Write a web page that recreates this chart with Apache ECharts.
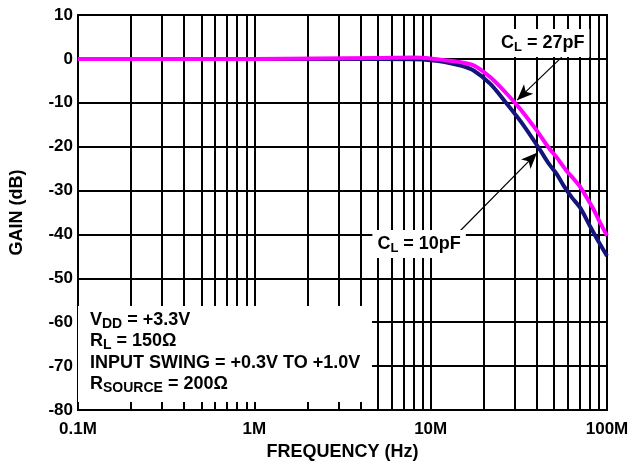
<!DOCTYPE html>
<html>
<head>
<meta charset="utf-8">
<script src="https://cdn.jsdelivr.net/npm/echarts@6/dist/echarts.min.js"></script>
<style>
  html, body { margin: 0; padding: 0; background: #fff; }
  #chart { width: 635px; height: 466px; }
</style>
</head>
<body>
<div id="chart"></div>
<script>
// frequency in MHz, gain in dB
var freq27 = [0.1, 1, 5, 8, 10, 12, 15, 17.6, 21.8, 27.1, 32.2, 40.1, 46.6, 52, 59.2, 64.6, 70, 76.7, 83.7, 90, 100];
var gain27 = [0, 0, 0.2, 0.3, 0.1, -0.3, -0.8, -1.5, -4.2, -8, -11.4, -16.4, -20.2, -22.5, -25.6, -27.3, -29, -31.6, -34.2, -36.8, -40.3];
var freq10 = [0.1, 1, 5, 8, 10, 12, 15, 17.6, 21.8, 27.1, 33.7, 41.8, 47, 52, 57, 63, 70.4, 80.1, 90, 100];
var gain10 = [0, 0, 0, -0.1, -0.3, -0.7, -1.6, -2.7, -5.7, -10.3, -15.2, -20.8, -24, -26.3, -29, -31.5, -33.9, -38.1, -41.8, -44.9];

var tickNames = {0.1: '0.1M', 1: '1M', 10: '10M', 100: '100M'};
// minor log grid lines 2..9 per decade
var minorGrid = [0.2, 0.3, 0.4, 0.5, 0.6, 0.7, 0.8, 0.9,
                 2, 3, 4, 5, 6, 7, 8, 9,
                 20, 30, 40, 50, 60, 70, 80, 90];

// annotations: [label, labelFreq, labelGain, arrowFromF, arrowFromG, arrowToF, arrowToG]
var note27 = ['C{sub|L} = 27pF', 43.2, 3.6, 55.4, 0.4, 30.9, -9.4];
var note10 = ['C{sub|L} = 10pF', 8.6, -42.2, 13.8, -40.3, 40.1, -21.4];

var conditions = [
    'V{sub|DD} = +3.3V',
    'R{sub|L} = 150\u03A9',
    'INPUT SWING = +0.3V TO +1.0V',
    'R{sub|SOURCE} = 200\u03A9'
];

var FONT = '"Liberation Sans", Arial, sans-serif';

function pairs(xs, ys) {
    var out = [];
    for (var i = 0; i < xs.length; i++) {
        out.push([xs[i], ys[i]]);
    }
    return out;
}

function noteSeries(n) {
    return {
        type: 'line',
        data: [],
        silent: true,
        markLine: {
            silent: true,
            symbol: ['none', 'arrow'],
            symbolSize: [10, 16],
            label: { show: false },
            lineStyle: { color: '#000', width: 1.2, type: 'solid' },
            data: [[{ coord: [n[3], n[4]] }, { coord: [n[5], n[6]] }]]
        },
        markPoint: {
            silent: true,
            symbol: 'rect',
            symbolSize: 1,
            itemStyle: { color: 'transparent' },
            label: {
                show: true,
                position: 'inside',
                formatter: n[0],
                backgroundColor: '#fff',
                padding: [3, 5, 3, 5],
                color: '#000',
                fontSize: 18,
                fontWeight: 'bold',
                fontFamily: FONT,
                rich: {
                    sub: { fontSize: 13, fontWeight: 'bold', fontFamily: FONT, color: '#000', padding: [9, 0, 0, 0] }
                }
            },
            data: [{ coord: [n[1], n[2]] }]
        },
        z: 20
    };
}

var chart = echarts.init(document.getElementById('chart'));
var option = {
    backgroundColor: '#fff',
    animation: false,
    grid: {
        left: 76, right: 28, top: 15, bottom: 56,
        show: true, borderColor: '#000', borderWidth: 2
    },
    xAxis: {
        type: 'log',
        logBase: 10,
        min: 0.1,
        max: 100,
        name: 'FREQUENCY (Hz)',
        nameLocation: 'middle',
        nameGap: 33,
        nameTextStyle: { fontSize: 18, fontWeight: 'bold', fontFamily: FONT, color: '#000' },
        axisLine: { lineStyle: { color: '#000', width: 2 } },
        axisTick: { show: false },
        axisLabel: {
            fontSize: 17, fontWeight: 'bold', fontFamily: FONT, color: '#000', margin: 11,
            formatter: function (v) { return tickNames[v] || ''; }
        },
        splitLine: { show: true, lineStyle: { color: '#000', width: 2 } }
    },
    yAxis: {
        type: 'value',
        min: -80,
        max: 10,
        interval: 10,
        name: 'GAIN (dB)',
        nameLocation: 'middle',
        nameGap: 52,
        nameTextStyle: { fontSize: 18, fontWeight: 'bold', fontFamily: FONT, color: '#000' },
        axisLine: { show: true, lineStyle: { color: '#000', width: 2 } },
        axisTick: { show: false },
        axisLabel: { fontSize: 17, fontWeight: 'bold', fontFamily: FONT, color: '#000', margin: 5 },
        splitLine: { show: true, lineStyle: { color: '#000', width: 2 } }
    },
    series: [
        {
            name: 'minor grid',
            type: 'line',
            data: [],
            silent: true,
            z: 1,
            markLine: {
                silent: true,
                symbol: ['none', 'none'],
                label: { show: false },
                lineStyle: { color: '#000', width: 2, type: 'solid' },
                data: minorGrid.map(function (f) { return { xAxis: f }; })
            }
        },
        {
            name: 'CL = 10pF',
            type: 'line',
            data: pairs(freq10, gain10),
            smooth: 0.3,
            showSymbol: false,
            lineStyle: { color: '#14147a', width: 4 },
            z: 5
        },
        {
            name: 'CL = 27pF',
            type: 'line',
            data: pairs(freq27, gain27),
            smooth: 0.3,
            showSymbol: false,
            lineStyle: { color: '#ff00ff', width: 4 },
            z: 6
        },
        noteSeries(note27),
        noteSeries(note10)
    ],
    graphic: [
        {
            type: 'rect',
            left: 78, top: 306,
            shape: { width: 294, height: 96 },
            style: { fill: '#fff' },
            z: 50
        },
        {
            type: 'text',
            left: 90, top: 309,
            z: 51,
            style: {
                text: conditions.join('\n'),
                fill: '#000',
                font: 'bold 18px ' + FONT,
                lineHeight: 21.5,
                rich: {
                    sub: { fontSize: 14, fontWeight: 'bold', fontFamily: FONT, fill: '#000', padding: [8, 0, 0, 0] }
                }
            }
        }
    ]
};
chart.setOption(option);
</script>
</body>
</html>
